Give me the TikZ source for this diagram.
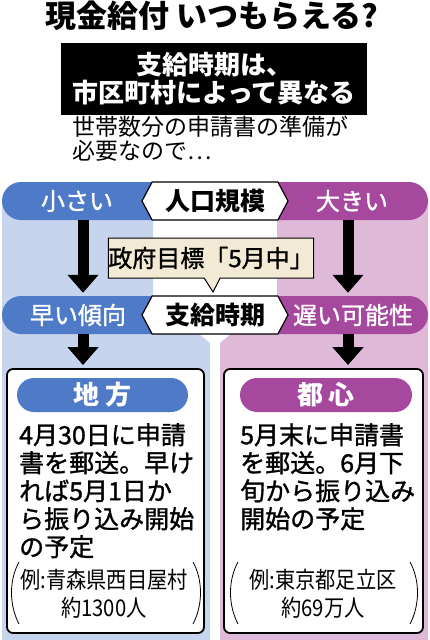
\documentclass[tikz,border=0pt]{standalone}
\usepackage{fontspec}
\setmainfont{Noto Sans CJK JP}
\newfontfamily\medfont[FakeBold=1.2]{Noto Sans CJK JP}
\newfontfamily\narrowfont[FakeStretch=0.88]{Noto Sans CJK JP}
\usepackage{xcolor}
\usepackage{tikz}
\usetikzlibrary{shapes.symbols, shapes.callouts, arrows.meta, positioning}
\definecolor{bandblue}{RGB}{78,122,200}
\definecolor{bgblue}{RGB}{199,212,238}
\definecolor{bandpurple}{RGB}{166,73,158}
\definecolor{bgpink}{RGB}{222,186,216}
\definecolor{beige}{RGB}{243,234,214}
\tikzstyle{band} = [minimum height=38pt, inner sep=0pt, text=white, font=\medfont\fontsize{24}{24}\selectfont]
\tikzstyle{hexa} = [signal, signal to=west and east, signal pointer angle=124, draw=black, line width=1.2pt, fill=white, minimum width=146pt, minimum height=38pt, inner sep=0pt, font=\bfseries\fontsize{25}{25}\selectfont]
\tikzstyle{goalbox} = [rectangle callout, callout pointer width=16pt, draw=black, line width=1pt, fill=beige, minimum width=198pt, minimum height=40pt, inner sep=0pt, font=\medfont\fontsize{24}{24}\selectfont]
\tikzstyle{panel} = [rectangle, rounded corners=6pt, draw=black, line width=1.8pt, fill=white, minimum height=264pt]
\tikzstyle{tag} = [rectangle, rounded corners=17pt, minimum height=34pt, inner sep=0pt, text=white, font=\bfseries\fontsize{26}{26}\selectfont]
\tikzstyle{bodytext} = [anchor=north west, inner sep=0pt, align=left, font=\medfont\fontsize{25}{28}\selectfont]
\tikzstyle{example} = [inner sep=0pt, align=center, font=\narrowfont\fontsize{23}{28}\selectfont]
\tikzstyle{paren} = [line width=0.8pt]
\tikzstyle{fatarrow} = [line width=11pt, -{Triangle[width=30pt, length=18pt]}]

\begin{document}
\begin{tikzpicture}[x=1pt, y=1pt]
    \useasboundingbox (0,0) rectangle (430,-640);

    \fill[bgblue] (2,-201) -- (153,-201) -- (153,-296) -- (210,-343) -- (210,-640) -- (2,-640) -- cycle;
    \fill[bgpink] (428,-201) -- (277,-201) -- (277,-296) -- (220,-343) -- (220,-640) -- (428,-640) -- cycle;
    \fill[bandblue, rounded corners=19pt] (2,-182) rectangle (225,-220);
    \fill[bandpurple, rounded corners=19pt] (205,-182) rectangle (428,-220);
    \fill[bandblue, rounded corners=19pt] (2,-296) rectangle (225,-334);
    \fill[bandpurple, rounded corners=19pt] (205,-296) rectangle (428,-334);

    \node (title) [font=\bfseries\fontsize{31}{31}\selectfont, inner sep=0pt] at (212,-16) {現金給付 いつもらえる?};
    \node (headline) [fill=black, text=white, minimum width=306pt, minimum height=72pt, inner sep=0pt, align=center, font=\bfseries\fontsize{26}{28}\selectfont] at (214,-79) {支給時期は、\\市区町村によって異なる};
    \node (note) [anchor=north west, inner sep=0pt, align=left, font=\fontsize{23}{24}\selectfont] at (72,-116) {世帯数分の申請書の準備が\\必要なので…};

    \node (small) [band] at (77,-201) {小さい};
    \node (popscale) [hexa] at (215,-201) {人口規模};
    \node (large) [band] at (352,-201) {大きい};
    \node (early) [band] at (78,-315) {早い傾向};
    \node (timing) [hexa] at (215,-315) {支給時期};
    \node (late) [band] at (353,-315) {遅い可能性};

    \coordinate (goaltip) at (213,-292);
    \node (goal) [goalbox, callout absolute pointer={(goaltip)}] at (211,-258) {政府目標「5月中」};

    \node (rural) [panel, minimum width=197pt] at (105.5,-501) {};
    \node (urban) [panel, minimum width=199pt] at (323.5,-501) {};
    \node (ruraltag) [tag, fill=bandblue, minimum width=171pt] at (102.5,-395) {地 方};
    \node (urbantag) [tag, fill=bandpurple, minimum width=172pt] at (326,-395) {都 心};
    \node (ruraltext) [bodytext] at (19,-423) {4月30日に申請\\書を郵送。早け\\れば5月1日か\\ら振り込み開始\\の予定};
    \node (urbantext) [bodytext] at (240,-423) {5月末に申請書\\を郵送。6月下\\旬から振り込み\\開始の予定};
    \node (ruralex) [example] at (104,-594) {例:青森県西目屋村\\約1300人};
    \node (urbanex) [example] at (323,-594) {例:東京都足立区\\約69万人};

    \draw [paren] (19,-562) .. controls (9,-580) and (9,-605) .. (19,-624);
    \draw [paren] (193,-562) .. controls (203,-580) and (203,-605) .. (193,-624);
    \draw [paren] (238,-562) .. controls (228,-580) and (228,-605) .. (238,-624);
    \draw [paren] (410,-562) .. controls (420,-580) and (420,-605) .. (410,-624);

    \draw [fatarrow, shorten >=3pt] ([xshift=6pt]small.south) -- ([xshift=6pt]small.south |- early.north);
    \draw [fatarrow, shorten >=3pt] ([xshift=-4pt]large.south) -- ([xshift=-4pt]large.south |- late.north);
    \draw [fatarrow, shorten >=3pt] ([xshift=5pt]early.south) -- ([xshift=5pt]early.south |- rural.north);
    \draw [fatarrow, shorten >=3pt] ([xshift=-5pt]late.south) -- ([xshift=-5pt]late.south |- urban.north);
\end{tikzpicture}
\end{document}
